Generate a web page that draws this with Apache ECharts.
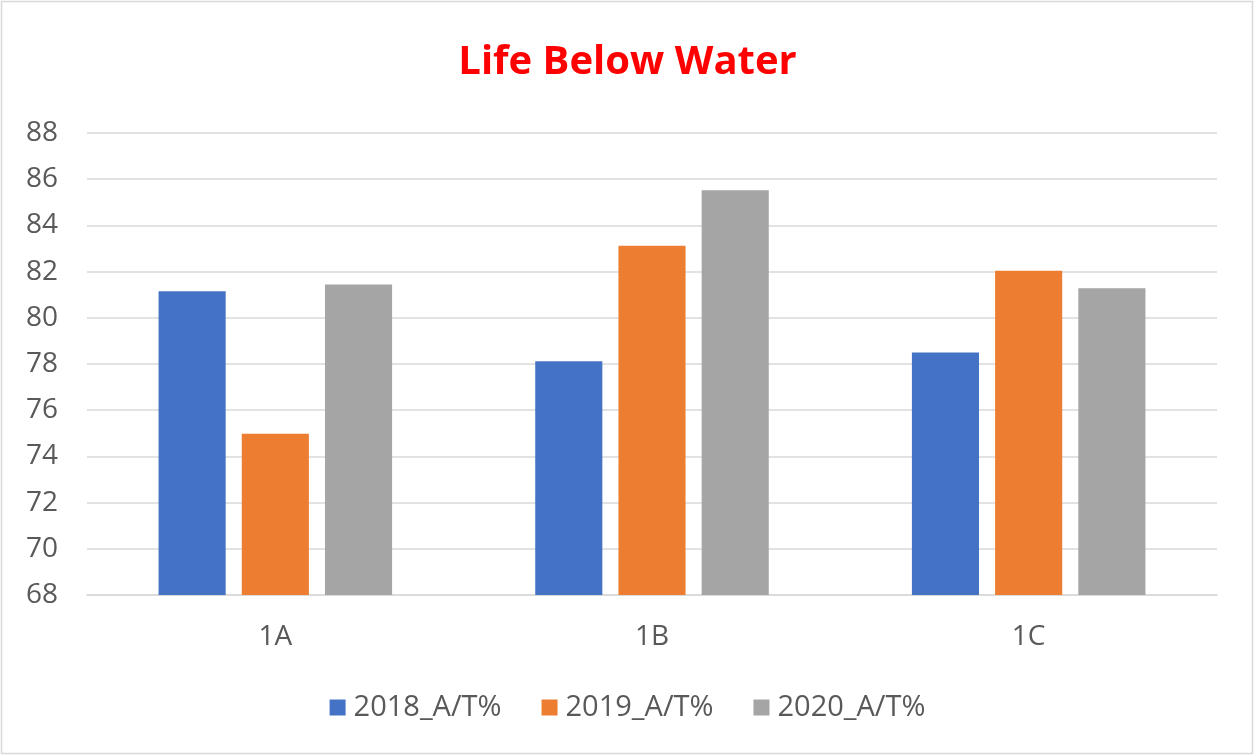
<!DOCTYPE html>
<html>
<head>
<meta charset="utf-8">
<script src="https://cdn.jsdelivr.net/npm/echarts@6/dist/echarts.min.js"></script>
<style>
html,body{margin:0;padding:0;background:#fff;}
#chart{width:1255px;height:756px;}
</style>
</head>
<body>
<div id="chart"></div>
<script>
const categories = ['1A', '1B', '1C'];
const seriesNames = ['2018_A/T%', '2019_A/T%', '2020_A/T%'];
const values2018 = [81.15, 78.12, 78.5];
const values2019 = [74.98, 83.12, 82.04];
const values2020 = [81.44, 85.52, 81.28];
const colors = ['#4472C4', '#ED7D31', '#A5A5A5'];

const chart = echarts.init(document.getElementById('chart'));
const fontFam = '"Open Sans", "Noto Sans", sans-serif';
const data = [values2018, values2019, values2020];
chart.setOption({
  animation: false,
  backgroundColor: '#fff',
  graphic: [{
    type: 'rect',
    shape: { x: 1.5, y: 1.5, width: 1251, height: 752 },
    style: { fill: 'none', stroke: '#d9d9d9', lineWidth: 1.5 },
    silent: true
  }],
  title: {
    text: 'Life Below Water',
    left: 'center',
    top: 38,
    textStyle: { color: '#FF0000', fontSize: 40, fontWeight: 'bold', fontFamily: fontFam }
  },
  legend: {
    data: seriesNames,
    bottom: 29,
    left: 'center',
    itemWidth: 16,
    itemHeight: 16,
    itemGap: 40,
    icon: 'rect',
    textStyle: { color: '#595959', fontSize: 29, fontFamily: fontFam, padding: [0, 0, 0, 3] }
  },
  grid: { left: 87, right: 38, top: 133, bottom: 161, containLabel: false },
  xAxis: {
    type: 'category',
    data: categories,
    axisLine: { show: true, lineStyle: { color: '#d9d9d9', width: 1.5 } },
    axisTick: { show: false },
    axisLabel: { color: '#595959', fontSize: 28, fontFamily: fontFam, margin: 28 }
  },
  yAxis: {
    type: 'value',
    min: 68,
    max: 88,
    interval: 2,
    axisLine: { show: false },
    axisTick: { show: false },
    axisLabel: { color: '#595959', fontSize: 28, fontFamily: fontFam, margin: 29 },
    splitLine: { lineStyle: { color: '#d9d9d9', width: 1.5 } }
  },
  series: seriesNames.map((n, i) => ({
    name: n,
    type: 'bar',
    data: data[i],
    barGap: '24%',
    barCategoryGap: '38%',
    itemStyle: { color: colors[i] }
  }))
});
</script>
</body>
</html>
